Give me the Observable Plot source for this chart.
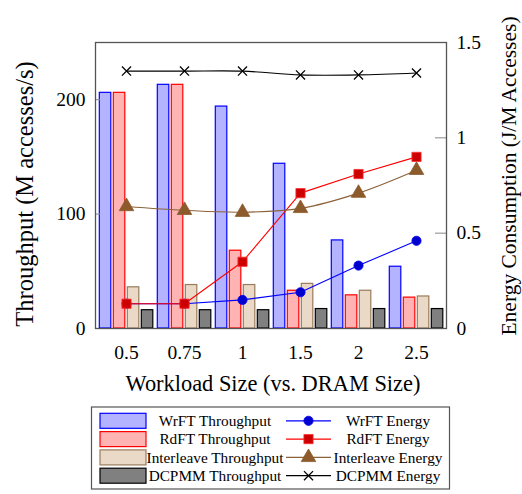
<!DOCTYPE html>
<html><head><meta charset="utf-8">
<script src="https://cdn.jsdelivr.net/npm/d3@7"></script>
<script src="https://cdn.jsdelivr.net/npm/@observablehq/plot@0.6"></script>
<style>
body{margin:0;background:#fff;}
#wrap{position:relative;width:522px;height:494px;font-family:"Liberation Serif",serif;overflow:hidden;}
#wrap svg{position:absolute;left:0;}
</style></head><body><div id="wrap"></div>
<script>
const sizes = ["0.5","0.75","1","1.5","2","2.5"];
const series = ["WrFT","RdFT","Interleave","DCPMM"];
const wrftThroughput = [206,213,194,144,77,54];
const rdftThroughput = [206,213,68,33,29,27];
const interleaveThroughput = [36,38,38,39,33,28];
const dcpmmThroughput = [16,16,16,17,17,17];
const wrftEnergy = [0.13,0.13,0.15,0.19,0.33,0.46];
const rdftEnergy = [0.13,0.13,0.35,0.71,0.81,0.90];
const interleaveEnergy = [0.64,0.62,0.61,0.63,0.71,0.83];
const dcpmmEnergy = [1.35,1.35,1.35,1.33,1.33,1.34];
const leftTicks = [0,100,200];
const rightTicks = [0,0.5,1,1.5];
const yMax = 250, eMax = 1.5, k = yMax/eMax;

const throughput = {WrFT: wrftThroughput, RdFT: rdftThroughput, Interleave: interleaveThroughput, DCPMM: dcpmmThroughput};
const energy = {WrFT: wrftEnergy, RdFT: rdftEnergy, Interleave: interleaveEnergy, DCPMM: dcpmmEnergy};
const sty = {
  WrFT: {fill:"#b3b3ff", stroke:"#0000ff", line:"#0000ff", mfill:"#0000cc", mstroke:"#0000ff", symbol:"circle", r:4.6, curve:"linear"},
  RdFT: {fill:"#ffb3b3", stroke:"#ff0000", line:"#ff0000", mfill:"#cc0000", mstroke:"#ff3030", symbol:"square", r:5.2, curve:"linear"},
  Interleave: {fill:"#ead9c6", stroke:"#9a7b5c", line:"#8c6239", mfill:"#8c5a2b", mstroke:"#8c5a2b", symbol:"triangle", r:5.4, curve:"catmull-rom"},
  DCPMM: {fill:"#808080", stroke:"#000000", line:"#000000", mfill:"none", mstroke:"#000000", symbol:"times", r:4.2, curve:"catmull-rom"}
};

const W = 522, H = 400, mL = 95, mR = 76, mT = 42, mB = 72;
const band = (W - mL - mR) / sizes.length;
const barW = 12, gap = 2, off = 2.3;

const marks = [];
series.forEach((s, i) => {
  const left = off + i * (barW + gap);
  marks.push(Plot.rectY(sizes.map((x, j) => ({x, v: throughput[s][j]})), {
    x: "x", y: "v", fill: sty[s].fill, stroke: sty[s].stroke, strokeWidth: 1.2,
    insetLeft: left, insetRight: band - left - barW
  }));
});
// inner tick marks
marks.push(Plot.ruleY(leftTicks.slice(1), {stroke:"#888", strokeWidth:1, insetRight: (W-mL-mR) - 5}));
marks.push(Plot.ruleY(rightTicks.slice(1,3).map(e => e*k), {stroke:"#888", strokeWidth:1, insetLeft: (W-mL-mR) - 11}));
series.forEach(s => {
  const data = sizes.map((x, j) => ({x, e: energy[s][j] * k}));
  marks.push(Plot.line(data, {x:"x", y:"e", stroke: sty[s].line, strokeWidth: 1.1, curve: sty[s].curve}));
});
series.forEach(s => {
  const data = sizes.map((x, j) => ({x, e: energy[s][j] * k}));
  marks.push(Plot.dot(data, {x:"x", y:"e", symbol: sty[s].symbol, r: sty[s].r, fill: sty[s].mfill, stroke: sty[s].mstroke, strokeWidth: s==="DCPMM"?1.3:0.8}));
});
marks.push(Plot.frame({stroke:"#555", strokeWidth:1.3}));
marks.push(Plot.axisX({tickSize:0, tickPadding:17, fontSize:19.5, label:null}));
marks.push(Plot.axisY(leftTicks, {anchor:"left", tickSize:0, tickPadding:10, fontSize:19.5, label:null}));
marks.push(Plot.axisY(rightTicks.map(e => e*k), {anchor:"right", tickSize:0, tickPadding:10, fontSize:19.5, label:null,
  tickFormat: d => String(Math.round(d / k * 100) / 100)}));

const chart = Plot.plot({
  width: W, height: H, marginLeft: mL, marginRight: mR, marginTop: mT, marginBottom: mB,
  x: {type:"band", domain: sizes, padding: 0, axis: null},
  y: {domain: [0, yMax], axis: null},
  style: {fontFamily:"Liberation Serif, serif", color:"black", background:"white", overflow:"visible"},
  marks
});
chart.style.top = "0px";
document.getElementById("wrap").appendChild(chart);

const svg = d3.select(chart);
svg.append("text").text("Throughput (M accesses/s)")
  .attr("transform", `translate(24,194) rotate(-90)`).attr("text-anchor","middle").attr("dy","0.35em")
  .attr("font-size", 24.5).attr("fill","black");
svg.append("text").text("Energy Consumption (J/M Accesses)")
  .attr("transform", `translate(${W-14},176) rotate(-90)`).attr("text-anchor","middle").attr("dy","0.35em")
  .attr("font-size", 21.5).attr("fill","black");
svg.append("text").text("Workload Size (vs. DRAM Size)")
  .attr("x", 273).attr("y", 391).attr("text-anchor","middle")
  .attr("font-size", 22.4).attr("fill","black");

// Legend
const lg = d3.select("#wrap").append("svg").attr("width", W).attr("height", 94).style("top","400px");
lg.append("rect").attr("x", 91.5).attr("y", 7).attr("width", 358).attr("height", 82)
  .attr("fill","white").attr("stroke","#555").attr("stroke-width",1.2);
series.forEach((s, i) => {
  const yy = 20.8 + i * 18.3;
  lg.append("rect").attr("x", 100).attr("y", yy - 7.5).attr("width", 46).attr("height", 15)
    .attr("fill", sty[s].fill).attr("stroke", sty[s].stroke).attr("stroke-width", 1.2);
  lg.append("text").text(s + " Throughput").attr("x", 215).attr("y", yy).attr("dy","0.35em")
    .attr("text-anchor","middle").attr("font-size", 15.3).attr("fill","black");
  lg.append("line").attr("x1", 286).attr("x2", 331).attr("y1", yy).attr("y2", yy)
    .attr("stroke", sty[s].line).attr("stroke-width", 1.2);
  const sym = {circle: d3.symbolCircle, square: d3.symbolSquare, triangle: d3.symbolTriangle, times: d3.symbolTimes}[sty[s].symbol];
  lg.append("path").attr("d", d3.symbol(sym, sty[s].r*sty[s].r*Math.PI)())
    .attr("transform", `translate(308.5,${yy})`)
    .attr("fill", sty[s].mfill).attr("stroke", sty[s].mstroke).attr("stroke-width", s==="DCPMM"?1.3:0.8);
  lg.append("text").text(s + " Energy").attr("x", 388).attr("y", yy).attr("dy","0.35em")
    .attr("text-anchor","middle").attr("font-size", 15.3).attr("fill","black");
});
</script></body></html>
